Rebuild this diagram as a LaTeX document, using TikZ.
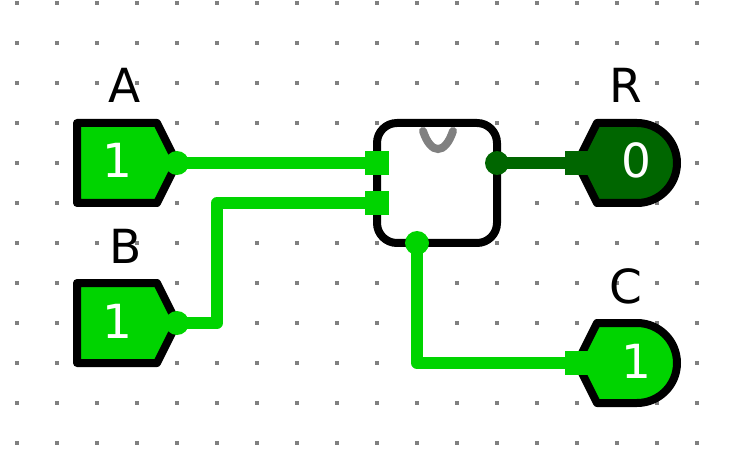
\documentclass[tikz,border=0pt]{standalone}
\usepackage{fontspec}
\setmainfont{DejaVu Sans}
\definecolor{on}{HTML}{00D400}
\definecolor{off}{HTML}{006600}
\definecolor{griddot}{HTML}{808080}
\tikzset{
  griddotstyle/.style={fill=griddot,draw=none},
  body/.style={draw=black,line width=8pt,line join=round},
  wire/.style={line width=12pt,line join=round,line cap=round},
  pinout/.style={circle,minimum size=24pt,inner sep=0pt,draw=none},
  pinin/.style={rectangle,minimum size=24pt,inner sep=0pt,draw=none},
  biglabel/.style={anchor=base,inner sep=0pt,font=\fontsize{47}{50}\selectfont},
  value/.style={biglabel,text=white},
}
\begin{document}
\begin{tikzpicture}[x=1pt,y=-1pt]
\useasboundingbox (0,0) rectangle (729,468);
\fill[white] (0,0) rectangle (729,468);
\foreach \i in {0,...,17}{\foreach \j in {0,...,11}{
  \fill[griddotstyle] ({15+40*\i},{1+40*\j}) rectangle ++(4,4);
}}
% gate
\draw[body,fill=white,rounded corners=20pt] (377,123) rectangle (497,243);
\draw[line width=8pt,griddot,line cap=round] (423,131) .. controls (431,155) and (445,155) .. (453,131);
% inputs
\draw[body,fill=on] (77,123) -- (157,123) -- (177,163) -- (157,203) -- (77,203) -- cycle;
\draw[body,fill=on] (77,283) -- (157,283) -- (177,323) -- (157,363) -- (77,363) -- cycle;
% outputs
\draw[body,fill=off] (597,123) -- (637,123) arc (-90:90:40) -- (597,203) -- (577,163) -- cycle;
\draw[body,fill=on] (597,323) -- (637,323) arc (-90:90:40) -- (597,403) -- (577,363) -- cycle;
% pins
\node[pinout,fill=on] (aout) at (177,163) {};
\node[pinout,fill=on] (bout) at (177,323) {};
\node[pinin,fill=on] (gina) at (377,163) {};
\node[pinin,fill=on] (ginb) at (377,203) {};
\node[pinout,fill=off] (gr) at (497,163) {};
\node[pinout,fill=on] (gc) at (417,243) {};
\node[pinin,fill=off] (rin) at (577,163) {};
\node[pinin,fill=on] (cin) at (577,363) {};
% wires
\coordinate (b1) at (217,323);
\coordinate (b2) at (217,203);
\coordinate (c1) at (417,363);
\draw[wire,on] (aout.center) -- (gina.center);
\draw[wire,on] (bout.center) -- (b1) -- (b2) -- (ginb.center);
\draw[wire,off] (gr.center) -- (rin.center);
\draw[wire,on] (gc.center) -- (c1) -- (cin.center);
% labels
\node[biglabel] (la) at (125,103) {A};
\node[biglabel] (lb) at (125.5,263) {B};
\node[biglabel] (lr) at (626,103) {R};
\node[biglabel] (lc) at (626,303) {C};
\node[value] (va) at (117,178) {1};
\node[value] (vb) at (117,338) {1};
\node[value] (vr) at (636,178) {0};
\node[value] (vc) at (636,378) {1};
\end{tikzpicture}
\end{document}
